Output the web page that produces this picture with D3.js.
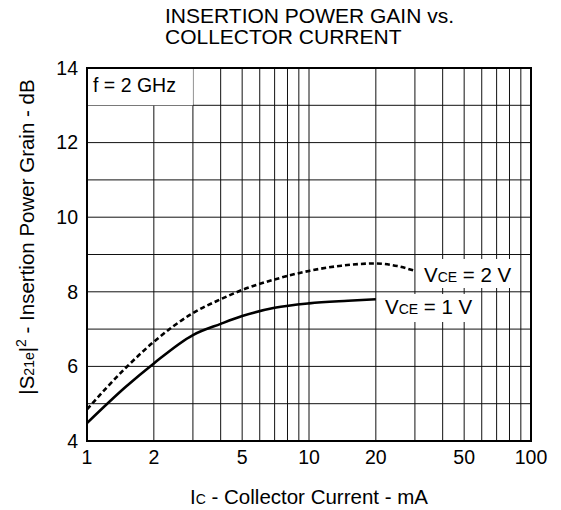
<!DOCTYPE html>
<html><head><meta charset="utf-8">
<script src="https://cdn.jsdelivr.net/npm/d3@7"></script>
<style>
html,body{margin:0;padding:0;background:#fff;}
text{font-family:"Liberation Sans",Arial,sans-serif;fill:#000;}
</style></head>
<body>
<svg id="chart" width="561" height="510"></svg>
<script>
// ---- data ----
const xTickValues = [1, 2, 5, 10, 20, 50, 100];
const xTickLabels = ["1", "2", "5", "10", "20", "50", "100"];
const yTickValues = [4, 6, 8, 10, 12, 14];
const xGrid = [1,2,3,4,5,6,7,8,9,10,20,30,40,50,60,70,80,90,100];
const yGrid = [4,5,6,7,8,9,10,11,12,13,14];

const currentV1 = [1, 1.5, 2, 3, 4, 5, 7, 10, 15, 20];
const gainV1    = [4.48, 5.46, 6.08, 6.84, 7.14, 7.35, 7.57, 7.69, 7.76, 7.80];
const currentV2 = [1, 1.5, 2, 3, 4, 5, 7, 10, 14, 20, 25, 30];
const gainV2    = [4.85, 5.97, 6.66, 7.43, 7.80, 8.05, 8.33, 8.56, 8.70, 8.76, 8.69, 8.56];

// ---- layout ----
const svg = d3.select("#chart");
const L = 87, R = 531, T = 68, B = 441;
const x = d3.scaleLog().domain([1, 100]).range([L, R]);
const y = d3.scaleLinear().domain([4, 14]).range([B, T]);

// grid
const g = svg.append("g");
g.selectAll("line.vg").data(xGrid).join("line")
  .attr("x1", d => x(d)).attr("x2", d => x(d)).attr("y1", T).attr("y2", B)
  .attr("stroke", "#111").attr("stroke-width", 1);
g.selectAll("line.hg").data(yGrid).join("line")
  .attr("x1", L).attr("x2", R).attr("y1", d => y(d)).attr("y2", d => y(d))
  .attr("stroke", "#111").attr("stroke-width", 1);

// f = 2 GHz box (covers grid)
svg.append("rect").attr("x", x(1)).attr("y", y(14)).attr("width", x(3) - x(1)).attr("height", y(13) - y(14))
  .attr("fill", "#fff");
svg.append("text").attr("x", 93).attr("y", 92).attr("font-size", 19.5).text("f = 2 GHz");

// curves
const line = d3.line().x(d => x(d[0])).y(d => y(d[1])).curve(d3.curveMonotoneX);
svg.append("path").datum(d3.zip(currentV2, gainV2)).attr("d", line)
  .attr("fill", "none").attr("stroke", "#000").attr("stroke-width", 2.6).attr("stroke-dasharray", "5,3");
svg.append("path").datum(d3.zip(currentV1, gainV1)).attr("d", line)
  .attr("fill", "none").attr("stroke", "#000").attr("stroke-width", 2.6);

// series labels with white backgrounds
function vceLabel(tx, ty, val, rx, ry, rw, rh) {
  svg.append("rect").attr("x", rx).attr("y", ry).attr("width", rw).attr("height", rh).attr("fill", "#fff");
  const t = svg.append("text").attr("x", tx).attr("y", ty).attr("font-size", 20.5);
  t.append("tspan").text("V");
  t.append("tspan").attr("font-size", 14).text("CE");
  t.append("tspan").text(" = " + val + " V");
}
vceLabel(424, 282, 2, 419, 259, 95, 29);
vceLabel(385, 314, 1, 380, 294, 95, 28);

// frame
svg.append("rect").attr("x", L).attr("y", T).attr("width", R - L).attr("height", B - T)
  .attr("fill", "none").attr("stroke", "#000").attr("stroke-width", 2);

// x tick labels
svg.selectAll("text.xt").data(xTickValues).join("text")
  .attr("x", d => x(d)).attr("y", 464).attr("text-anchor", "middle").attr("font-size", 19.5)
  .text((d, i) => xTickLabels[i]);
// y tick labels
svg.selectAll("text.yt").data(yTickValues).join("text")
  .attr("x", 78).attr("y", d => y(d)).attr("dy", "0.35em").attr("text-anchor", "end").attr("font-size", 19.5)
  .text(d => d);

// title
const title = svg.append("text").attr("x", 165).attr("font-size", 21);
title.append("tspan").attr("x", 165).attr("y", 23).text("INSERTION POWER GAIN vs.");
title.append("tspan").attr("x", 165).attr("y", 44).text("COLLECTOR CURRENT");

// x axis title
const xt = svg.append("text").attr("x", (L + R) / 2).attr("y", 504).attr("text-anchor", "middle").attr("font-size", 20.5);
xt.append("tspan").text("I");
xt.append("tspan").attr("font-size", 14).text("C");
xt.append("tspan").text(" - Collector Current - mA");

// y axis title
const yt = svg.append("text").attr("transform", "translate(34,237) rotate(-90)")
  .attr("text-anchor", "middle").attr("font-size", 20.5);
yt.append("tspan").text("|S");
yt.append("tspan").attr("font-size", 14).text("21e");
yt.append("tspan").text("|");
yt.append("tspan").attr("font-size", 14).attr("dy", -8).text("2");
yt.append("tspan").attr("dy", 8).text(" - Insertion Power Grain - dB");
</script>
</body></html>
